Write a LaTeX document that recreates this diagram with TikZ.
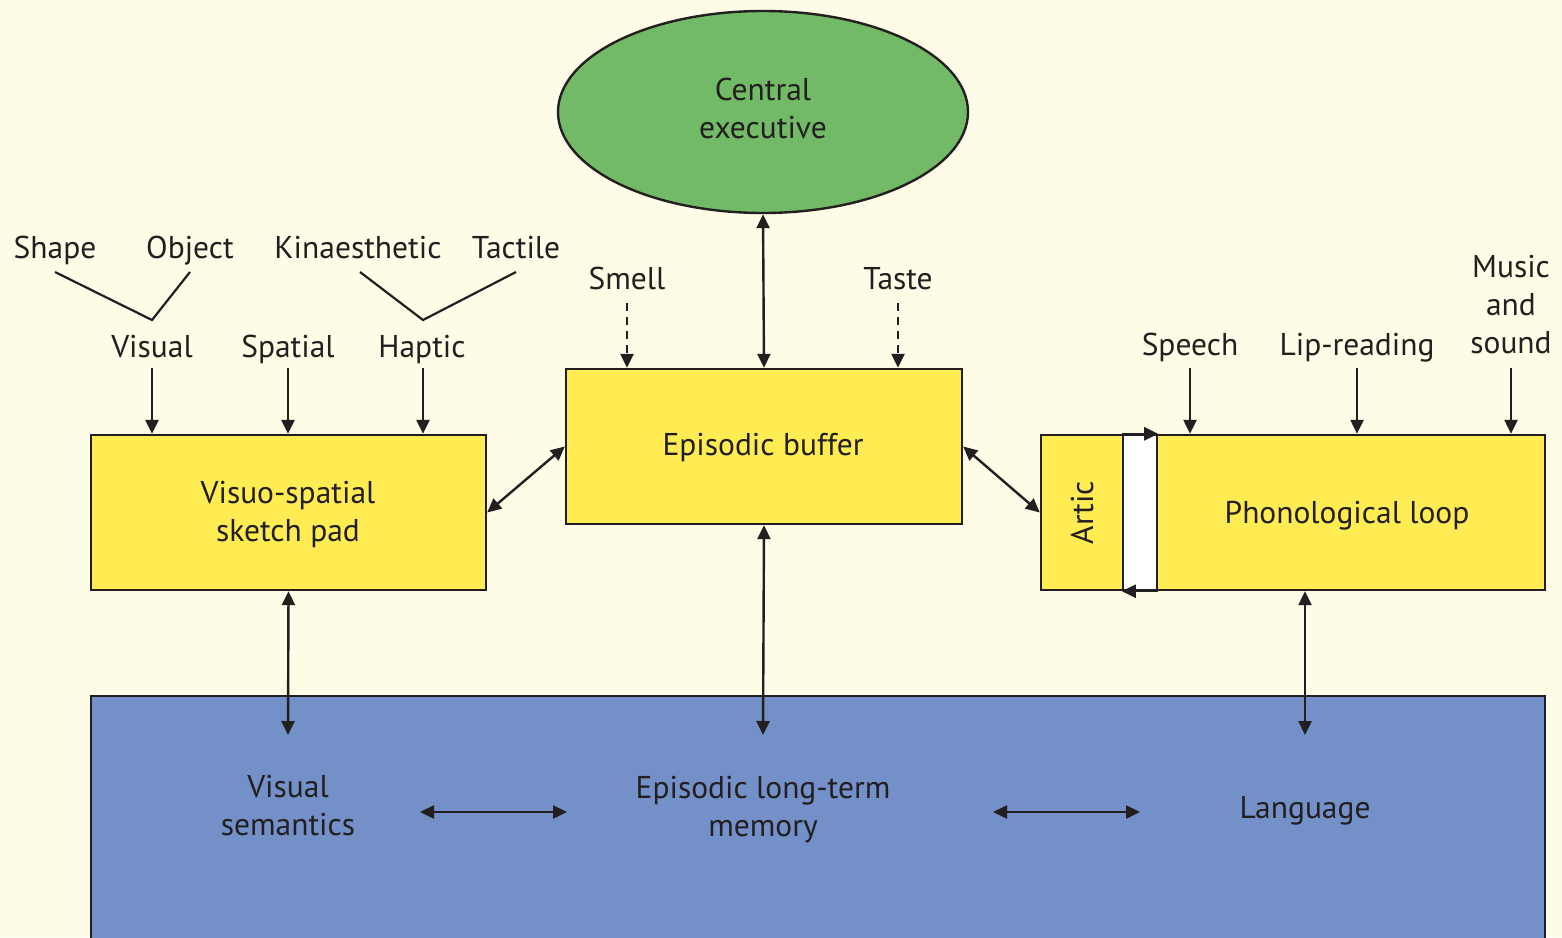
\documentclass[tikz,border=0pt]{standalone}
\usepackage{fontspec}
\setmainfont{PT Sans}
\usetikzlibrary{arrows.meta,shapes.geometric,calc}
\definecolor{paper}{RGB}{254,251,230}
\definecolor{boxyellow}{RGB}{255,236,82}
\definecolor{execgreen}{RGB}{114,185,104}
\definecolor{ltmblue}{RGB}{116,144,200}
\definecolor{ink}{RGB}{35,31,32}
\tikzset{
  every node/.style={text=ink, font=\fontsize{31.5}{38}\selectfont},
  label/.style={anchor=base, inner sep=0pt},
  mlabel/.style={align=center, inner sep=0pt},
  modbox/.style={draw=ink, line width=2.4pt, fill=boxyellow, inner sep=0pt},
  arr/.style={-{Triangle[length=14pt,width=13pt]}, line width=2.4pt, draw=ink},
  dbl/.style={{Triangle[length=14pt,width=13pt]}-{Triangle[length=14pt,width=13pt]}, line width=2.4pt, draw=ink},
  feed/.style={line width=2.2pt, draw=ink},
}
\begin{document}
\begin{tikzpicture}[x=1pt,y=-1pt]
\useasboundingbox (0,0) rectangle (1562,937);
\fill[paper] (0,0) rectangle (1562,937);

% long-term memory band (runs off the bottom edge)
\node[draw=ink, line width=2.4pt, fill=ltmblue, minimum width=1454pt, minimum height=300pt, inner sep=0pt] (ltm) at (818,846) {};

% central executive
\node[ellipse, draw=ink, line width=2.4pt, fill=execgreen, minimum width=410pt, minimum height=202pt, inner sep=0pt] (ce) at (763,112) {};
\node[mlabel] (celab) at (763,108) {Central\\executive};

% slave systems
\node[modbox, minimum width=396pt, minimum height=155pt] (eb) at (764,446.5) {};
\node[inner sep=0pt] (eblab) at (763,447) {Episodic buffer};
\node[modbox, minimum width=395pt, minimum height=155pt] (vssp) at (288.5,512.5) {};
\node[mlabel] (vsslab) at (288,514) {Visuo-spatial\\sketch pad};
\node[modbox, minimum width=82pt, minimum height=155pt] (artic) at (1082,512.5) {};
\node[rotate=90, inner sep=0pt] (articlab) at (1082,512.5) {Artic};
\node[draw=ink, line width=2.4pt, fill=white, minimum width=34pt, minimum height=155pt, inner sep=0pt] (strip) at (1140,512.5) {};
\node[modbox, minimum width=388pt, minimum height=155pt] (pl) at (1351,512.5) {};
\node[inner sep=0pt] (pllab) at (1347,516) {Phonological loop};

% rehearsal loop arrows on the strip
\draw[arr] (strip.north west) -- (strip.north east);
\draw[arr] (strip.south east) -- (strip.south west);

% inputs to the sketch pad
\node[label] (shape) at (55,258) {Shape};
\node[label] (object) at (190,258) {Object};
\node[label] (kin) at (358,258) {Kinaesthetic};
\node[label] (tact) at (516,258) {Tactile};
\node[label] (visual) at (152,357) {Visual};
\node[label] (spatial) at (288,357) {Spatial};
\node[label] (haptic) at (422,357) {Haptic};
\draw[feed] ([yshift=-14pt]shape.base) -- ([yshift=37pt]visual.base) -- ([yshift=-14pt]object.base);
\draw[feed] ([xshift=2pt,yshift=-14pt]kin.base) -- ([xshift=1pt,yshift=37pt]haptic.base) -- ([yshift=-14pt]tact.base);
\draw[arr] ([yshift=-11pt]visual.base) -- (visual.base |- vssp.north);
\draw[arr] ([yshift=-11pt]spatial.base) -- (spatial.base |- vssp.north);
\draw[arr] ([xshift=1pt,yshift=-11pt]haptic.base) -- ([xshift=1pt]haptic.base |- vssp.north);

% inputs to the buffer
\node[label] (smell) at (627,289) {Smell};
\node[label] (taste) at (898,289) {Taste};
\draw[arr, dash pattern=on 8pt off 6pt] ([yshift=-14pt]smell.base) -- (smell.base |- eb.north);
\draw[arr, dash pattern=on 8pt off 6pt] ([yshift=-14pt]taste.base) -- (taste.base |- eb.north);

% inputs to the phonological loop
\node[label] (speech) at (1190,355) {Speech};
\node[label] (lip) at (1357,355) {Lip-reading};
\node[mlabel] (music) at (1511,305) {Music\\and\\sound};
\draw[arr] ([yshift=-13pt]speech.base) -- (speech.base |- pl.north);
\draw[arr] ([yshift=-13pt]lip.base) -- (lip.base |- pl.north);
\draw[arr] ([yshift=-13pt]music.south) -- (music.south |- pl.north);

% links between components
\draw[dbl] (ce.south) -- (eb.north);
\draw[dbl] (vssp.east) -- (eb.west);
\draw[dbl] (eb.east) -- (artic.west);

% long-term memory contents
\node[mlabel] (vsem) at (288,806) {Visual\\semantics};
\node[mlabel] (eltm) at (763,810) {Episodic long-term\\memory};
\node[label] (lang) at (1305,818) {Language};
\coordinate (vsemdown) at (288,735);
\coordinate (ebdown) at (763,735);
\coordinate (pldown) at (1305,735);
\draw[dbl] (vssp.south) -- (vsemdown);
\draw[dbl] (eb.south) -- (ebdown);
\draw[dbl] (lang.base |- pl.south) -- (pldown);
\coordinate (h1a) at (420,812);
\coordinate (h1b) at (567,812);
\coordinate (h2a) at (993,812);
\coordinate (h2b) at (1140,812);
\draw[dbl] (h1a) -- (h1b);
\draw[dbl] (h2a) -- (h2b);
\end{tikzpicture}
\end{document}
